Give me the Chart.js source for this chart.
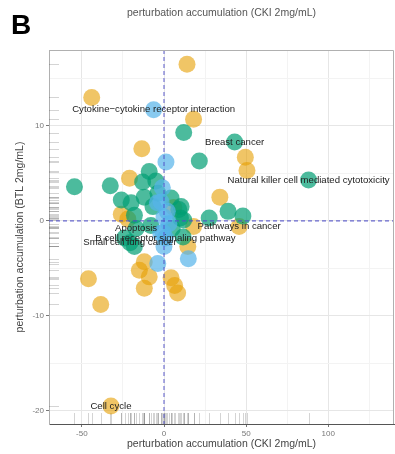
<!DOCTYPE html>
<html>
<head>
<meta charset="utf-8">
<script src="https://cdn.jsdelivr.net/npm/chart.js@4/dist/chart.umd.min.js"></script>
<style>
  html, body { margin: 0; padding: 0; background: #fff; }
  #wrap { position: relative; width: 395px; height: 454px; }
</style>
</head>
<body>
<div id="wrap"><canvas id="c" width="395" height="454"></canvas></div>
<script>
// Pathway perturbation accumulation: CKI 2mg/mL (x) vs BTL 2mg/mL (y)
const orangeX = [14, -44, 18, -13.5, 49.5, 50.5, 34, -21, -26, -22, 18, 14.5, 45.7, 6, -12, -15, -9, -12, 4.3, 8.3, -46, -38.5, -32.3, 6.5];
const orangeY = [16.5, 13.0, 10.7, 7.6, 6.7, 5.3, 2.5, 4.5, 0.7, 0.2, -0.6, -2.7, -0.6, 1.4, -4.3, -5.2, -5.9, -7.1, -6.0, -7.6, -6.1, -8.8, -19.5, -6.8];

const greenX = [-54.5, -32.7, -26, -9, -13, 12, 21.5, 43, 88, 27.5, 39, 48, -3.7, 4.3, 10.4, -6.7, -12, -18, 10, 9, 12, -20, -17, -20.7, -24, -18, 11.6, -8, 5, -5];
const greenY = [3.6, 3.7, 2.2, 5.2, 4.1, 9.3, 6.3, 8.3, 4.3, 0.3, 1.0, 0.5, 2.9, 2.4, 1.5, 1.5, 2.5, 0.6, 0.3, 1.2, 0.1, 1.9, -0.8, -2.3, -1.8, -2.7, -1.7, -0.5, -0.8, 4.2];

const blueX = [-6.3, 1.2, -1.8, 0, -0.6, -4, -2, 0, 14.8, -3.8, 0.9, 2, -1, 3];
const blueY = [11.7, 6.2, 2.0, 0.4, -1.2, 1.9, -1.3, -2.7, -4.0, -4.5, -1.8, 1.0, 3.5, -0.3];

// Annotated pathways (text centred on the pathway's point)
const pathwayNames = ['Cytokine\u2212cytokine receptor interaction', 'Breast cancer', 'Natural killer cell mediated cytotoxicity', 'Pathways in cancer', 'Apoptosis', 'B cell receptor signaling pathway', 'Small cell lung cancer', 'Cell cycle'];
const pathwayX = [-6.3, 43, 88, 45.7, -17, 0.9, -20.7, -32.3];
const pathwayY = [11.7, 8.3, 4.3, -0.6, -0.8, -1.8, -2.3, -19.5];

const xTicks = [-50, -25, 0, 25, 50, 75, 100, 125];
const xMajor = [-50, 0, 50, 100];
const yTicks = [-20, -15, -10, -5, 0, 5, 10, 15];
const yMajor = [-20, -10, 0, 10];

const toPoints = (xs, ys) => xs.map((x, i) => ({ x: x, y: ys[i] }));

const FONT = '"Liberation Sans", Arial, sans-serif';

const decor = {
  id: 'decor',
  beforeDatasetsDraw(chart) {
    const { ctx, chartArea: a, scales: { x, y } } = chart;
    // rug marks along the left and bottom edges
    ctx.save();
    ctx.strokeStyle = 'rgba(60,60,60,0.22)';
    ctx.lineWidth = 1;
    const allX = orangeX.concat(greenX, blueX);
    const allY = orangeY.concat(greenY, blueY);
    allY.forEach(v => {
      const py = Math.round(y.getPixelForValue(v)) + 0.5;
      ctx.beginPath(); ctx.moveTo(a.left, py); ctx.lineTo(a.left + 10, py); ctx.stroke();
    });
    allX.forEach(v => {
      const px = Math.round(x.getPixelForValue(v)) + 0.5;
      ctx.beginPath(); ctx.moveTo(px, a.bottom); ctx.lineTo(px, a.bottom - 11); ctx.stroke();
    });
    ctx.restore();
  },
  afterDatasetsDraw(chart) {
    const { ctx, chartArea: a, scales: { x, y } } = chart;
    ctx.save();
    // zero reference lines
    ctx.strokeStyle = 'rgba(80,80,200,0.85)';
    ctx.lineWidth = 1.1;
    ctx.setLineDash([4, 3]);
    const x0 = x.getPixelForValue(0), y0 = y.getPixelForValue(0);
    ctx.beginPath(); ctx.moveTo(x0, a.top); ctx.lineTo(x0, a.bottom); ctx.stroke();
    ctx.beginPath(); ctx.moveTo(a.left, y0); ctx.lineTo(a.right, y0); ctx.stroke();
    ctx.setLineDash([]);
    // panel border (top and right)
    ctx.strokeStyle = '#b0b0b0';
    ctx.lineWidth = 1;
    ctx.beginPath();
    ctx.moveTo(a.left, a.top + 0.5); ctx.lineTo(a.right - 0.5, a.top + 0.5); ctx.lineTo(a.right - 0.5, a.bottom);
    ctx.stroke();
    // pathway labels
    ctx.fillStyle = '#222';
    ctx.font = '9.6px ' + FONT;
    ctx.textAlign = 'center';
    ctx.textBaseline = 'middle';
    pathwayNames.forEach((name, i) => {
      ctx.fillText(name, x.getPixelForValue(pathwayX[i]), y.getPixelForValue(pathwayY[i]));
    });
    ctx.restore();
  },
  afterDraw(chart) {
    const { ctx, chartArea: a } = chart;
    const cx = (a.left + a.right) / 2, cy = (a.top + a.bottom) / 2;
    ctx.save();
    ctx.fillStyle = '#000';
    ctx.font = 'bold 28px ' + FONT;
    ctx.textAlign = 'left';
    ctx.textBaseline = 'alphabetic';
    ctx.fillText('B', 11, 34);
    ctx.fillStyle = '#555';
    ctx.font = '10.5px ' + FONT;
    ctx.textAlign = 'center';
    ctx.textBaseline = 'middle';
    ctx.fillText('perturbation accumulation (CKI 2mg/mL)', cx, 13);
    ctx.fillStyle = '#444';
    ctx.fillText('perturbation accumulation (CKI 2mg/mL)', cx, 444);
    ctx.translate(20, cy);
    ctx.rotate(-Math.PI / 2);
    ctx.fillText('perturbation accumulation (BTL 2mg/mL)', 0, 0);
    ctx.restore();
  }
};

const gridColor = (major) => (c) => major.includes(c.tick && c.tick.value) ? '#e6e6e6' : '#f3f3f3';
const tickColor = (major) => (c) => major.includes(c.tick && c.tick.value) ? '#777' : 'rgba(0,0,0,0)';

new Chart(document.getElementById('c'), {
  type: 'scatter',
  data: {
    datasets: [
      { label: 'orange', data: toPoints(orangeX, orangeY), backgroundColor: 'rgba(230,159,0,0.6)', order: 3 },
      { label: 'green', data: toPoints(greenX, greenY), backgroundColor: 'rgba(0,158,115,0.7)', order: 2 },
      { label: 'blue', data: toPoints(blueX, blueY), backgroundColor: 'rgba(86,180,233,0.7)', order: 1 }
    ]
  },
  options: {
    responsive: false,
    devicePixelRatio: 1,
    animation: false,
    events: [],
    layout: { autoPadding: false, padding: { top: 50, right: 1, left: 0, bottom: 0 } },
    elements: { point: { radius: 8.5, hoverRadius: 8.5, borderWidth: 0 } },
    plugins: { legend: { display: false }, tooltip: { enabled: false } },
    scales: {
      x: {
        type: 'linear', min: -70, max: 140,
        afterFit: s => { s.height = 30; s.paddingLeft = 0; s.paddingRight = 0; },
        afterBuildTicks: s => { s.ticks = xTicks.map(v => ({ value: v })); },
        ticks: { autoSkip: false, maxRotation: 0, padding: 2, color: '#777', font: { size: 8, family: FONT },
                 callback: v => xMajor.includes(v) ? String(v) : '' },
        grid: { color: gridColor(xMajor), tickColor: tickColor(xMajor), tickLength: 3 },
        border: { color: '#555', width: 1 }
      },
      y: {
        type: 'linear', min: -21.4, max: 18,
        afterFit: s => { s.width = 49; s.paddingTop = 0; s.paddingBottom = 0; },
        afterBuildTicks: s => { s.ticks = yTicks.map(v => ({ value: v })); },
        ticks: { autoSkip: false, padding: 2, color: '#777', font: { size: 8, family: FONT },
                 callback: v => yMajor.includes(v) ? String(v) : '' },
        grid: { color: gridColor(yMajor), tickColor: tickColor(yMajor), tickLength: 3 },
        border: { color: '#b0b0b0', width: 1 }
      }
    }
  },
  plugins: [decor]
});
</script>
</body>
</html>
